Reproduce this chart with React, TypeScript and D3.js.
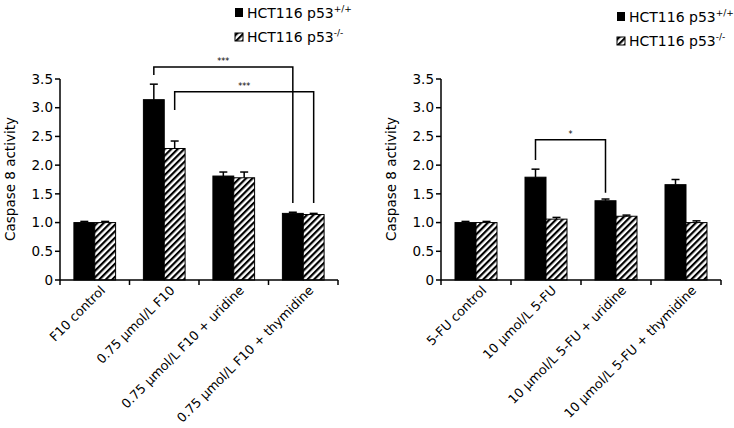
import React from "react";
import * as d3 from "d3";

const seriesNames = ["wt", "ko"];
const yTicks = [0, 0.5, 1.0, 1.5, 2.0, 2.5, 3.0, 3.5];

const leftCategories = ["F10 control", "0.75 µmol/L F10", "0.75 µmol/L F10 + uridine", "0.75 µmol/L F10 + thymidine"];
const leftWT = [1.0, 3.14, 1.81, 1.16];
const leftWTErr = [0.02, 0.27, 0.07, 0.02];
const leftKO = [1.0, 2.29, 1.78, 1.14];
const leftKOErr = [0.02, 0.13, 0.1, 0.02];
// bracket: [cat, series] start, [cat, series] end, level, start drop, end drop, label
const leftBrackets = [
  { a: [1, 0], b: [3, 0], level: 3.71, aLow: 3.57, bLow: 1.34, label: "***" },
  { a: [1, 1], b: [3, 1], level: 3.28, aLow: 2.96, bLow: 1.34, label: "***" },
];

const rightCategories = ["5-FU control", "10 µmol/L 5-FU", "10 µmol/L 5-FU + uridine", "10 µmol/L 5-FU + thymidine"];
const rightWT = [1.0, 1.79, 1.38, 1.66];
const rightWTErr = [0.02, 0.14, 0.03, 0.09];
const rightKO = [1.0, 1.06, 1.11, 1.0];
const rightKOErr = [0.02, 0.03, 0.02, 0.03];
const rightBrackets = [
  { a: [1, 0], b: [2, 0], level: 2.44, aLow: 2.09, bLow: 1.52, label: "*" },
];

const FONT = "'DejaVu Sans', Verdana, sans-serif";

function Panel({ x0, x1, categories, wt, wtErr, ko, koErr, brackets, legendX, legendY }: any) {
  const yTop = 79, yBottom = 280;
  const y = d3.scaleLinear().domain([0, 3.5]).range([yBottom, yTop]);
  const xb = d3.scaleBand().domain(categories).range([x0, x1]).paddingInner(0).paddingOuter(0);
  const bw = xb.bandwidth();
  const xs = d3.scaleBand().domain(seriesNames).range([bw * 0.2, bw * 0.8]);
  const sw = xs.bandwidth();
  const values = [wt, ko];
  const errs = [wtErr, koErr];
  const fills = ["#000", "url(#hatch)"];
  const barX = (c: number, s: number) => (xb(categories[c]) as number) + (xs(seriesNames[s]) as number);
  const barC = (c: number, s: number) => barX(c, s) + sw / 2;
  return (
    <g fontFamily={FONT}>
      {categories.map((cat: string, ci: number) =>
        seriesNames.map((sn, si) => {
          const v = values[si][ci];
          const e = errs[si][ci];
          const bx = barX(ci, si);
          const cx = bx + sw / 2;
          return (
            <g key={cat + sn}>
              <rect x={bx} y={y(v)} width={sw} height={y(0) - y(v)} fill={fills[si]} stroke="#000" strokeWidth={1} />
              <line x1={cx} x2={cx} y1={y(v)} y2={y(v + e)} stroke="#000" strokeWidth={1.5} />
              <line x1={cx - 4} x2={cx + 4} y1={y(v + e)} y2={y(v + e)} stroke="#000" strokeWidth={1.5} />
            </g>
          );
        })
      )}
      <line x1={x0} x2={x0} y1={yTop} y2={yBottom} stroke="#000" strokeWidth={1.5} />
      {yTicks.map((t) => (
        <g key={t}>
          <line x1={x0 - 5} x2={x0} y1={y(t)} y2={y(t)} stroke="#000" strokeWidth={1.5} />
          <text x={x0 - 7} y={y(t)} dy="0.35em" textAnchor="end" fontSize={13.5}>
            {t === 0 ? "0" : t.toFixed(1)}
          </text>
        </g>
      ))}
      <text transform={`translate(${x0 - 50},179) rotate(-90)`} textAnchor="middle" dy="0.35em" fontSize={13.5}>
        Caspase 8 activity
      </text>
      <line x1={x0} x2={x1} y1={yBottom} y2={yBottom} stroke="#000" strokeWidth={1.5} />
      {[...categories.map((c: string) => xb(c) as number), x1].map((tx: number, i: number) => (
        <line key={i} x1={tx} x2={tx} y1={yBottom} y2={yBottom + 5} stroke="#000" strokeWidth={1.5} />
      ))}
      {categories.map((c: string) => (
        <text key={c} transform={`translate(${(xb(c) as number) + bw / 2 + 8},${yBottom + 8}) rotate(-45)`} textAnchor="end" dy="0.35em" fontSize={12.8}>
          {c}
        </text>
      ))}
      {brackets.map((br: any, i: number) => {
        const ax = barC(br.a[0], br.a[1]);
        const bx = barC(br.b[0], br.b[1]);
        const ly = y(br.level);
        return (
          <g key={i}>
            <path d={`M${ax},${y(br.aLow)}V${ly}H${bx}V${y(br.bLow)}`} fill="none" stroke="#000" strokeWidth={1.5} />
            <text x={(ax + bx) / 2} y={ly - 3} textAnchor="middle" fontSize={8}>
              {br.label}
            </text>
          </g>
        );
      })}
      <g transform={`translate(${legendX},${legendY})`}>
        <rect x={0} y={0} width={8} height={9} fill="#000" />
        <text x={12} y={9.5} fontSize={14}>
          HCT116 p53<tspan dy={-6} fontSize={9}>+/+</tspan>
        </text>
        <rect x={0} y={25} width={8} height={8} fill="url(#hatch)" stroke="#000" strokeWidth={1} />
        <text x={12} y={34} fontSize={14}>
          HCT116 p53<tspan dy={-6} fontSize={9}>-/-</tspan>
        </text>
      </g>
    </g>
  );
}

export default function App() {
  return (
    <svg width={734} height={428} style={{ position: "absolute", left: 0, top: 0, background: "#fff" }}>
      <defs>
        <pattern id="hatch" patternUnits="userSpaceOnUse" width={4.6} height={4.6} patternTransform="rotate(45)">
          <rect x={0} y={0} width={4.6} height={4.6} fill="#fff" />
          <rect x={0} y={0} width={2.2} height={4.6} fill="#000" />
        </pattern>
      </defs>
      <rect x={0} y={0} width={734} height={428} fill="#fff" />
      <Panel x0={60} x1={338} categories={leftCategories} wt={leftWT} wtErr={leftWTErr} ko={leftKO} koErr={leftKOErr} brackets={leftBrackets} legendX={235} legendY={8} />
      <Panel x0={441} x1={721} categories={rightCategories} wt={rightWT} wtErr={rightWTErr} ko={rightKO} koErr={rightKOErr} brackets={rightBrackets} legendX={617} legendY={12} />
    </svg>
  );
}
